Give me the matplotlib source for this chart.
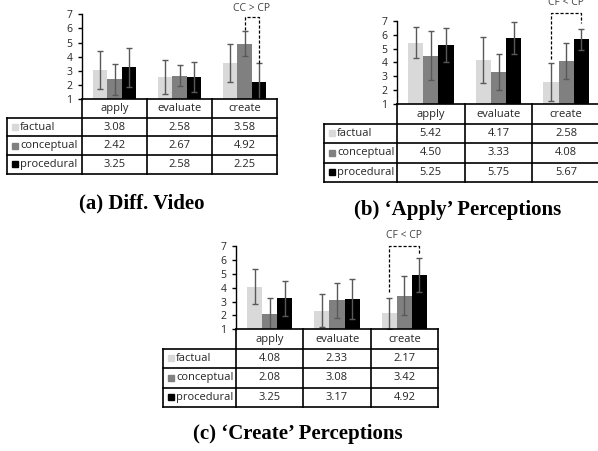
import matplotlib
matplotlib.use("Agg")
import matplotlib.pyplot as plt

W, H = 598, 451
DPI = 100

categories = ["apply", "evaluate", "create"]
series = ["factual", "conceptual", "procedural"]
colors = ["#d9d9d9", "#808080", "#000000"]

diff_factual = [3.08, 2.58, 3.58]
diff_conceptual = [2.42, 2.67, 4.92]
diff_procedural = [3.25, 2.58, 2.25]
diff_factual_sd = [1.35, 1.18, 1.33]
diff_conceptual_sd = [1.10, 0.73, 0.88]
diff_procedural_sd = [1.38, 1.06, 1.30]

apply_factual = [5.42, 4.17, 2.58]
apply_conceptual = [4.50, 3.33, 4.08]
apply_procedural = [5.25, 5.75, 5.67]
apply_factual_sd = [1.10, 1.63, 1.35]
apply_conceptual_sd = [1.75, 1.27, 1.30]
apply_procedural_sd = [1.25, 1.17, 0.75]

create_factual = [4.08, 2.33, 2.17]
create_conceptual = [2.08, 3.08, 3.42]
create_procedural = [3.25, 3.17, 4.92]
create_factual_sd = [1.25, 1.20, 1.12]
create_conceptual_sd = [1.20, 1.25, 1.42]
create_procedural_sd = [1.26, 1.42, 1.20]

captions = ["(a) Diff. Video", "(b) \u2018Apply\u2019 Perceptions", "(c) \u2018Create\u2019 Perceptions"]

# comparison brackets: text, left series, right series, top, left end, right end, text y
notes = [
    ("CC > CP", 1, 2, 6.79, 5.89, 3.59, 7.42),
    ("CF < CP", 0, 2, 7.56, 4.23, 6.81, 8.34),
    ("CF < CP", 0, 2, 7.00, 3.71, 6.35, 7.79),
]

# pixel layout: label col left, axis left, right, y of 7, y of 1, table bottom
layout = [
    (7, 82, 277, 14.3, 99.3, 173.5),
    (324, 397, 600, 20.7, 104.3, 182.0),
    (163, 236, 438, 246.0, 329.3, 407.0),
]
caption_pos = [(142, 203), (458, 210), (298, 434)]

FONT = "Open Sans"
FS = 7.5
FS_TABLE = 8
TXT = "#262626"
BAR_W = 0.225


def fig_rect(x0, y0, x1, y1):
    return [x0 / W, 1 - y1 / H, (x1 - x0) / W, (y1 - y0) / H]


def draw_panel(fig, geom, values, sds, note):
    xl, xa, xr, y7, y1, yb = geom
    colw = (xr - xa) / 3.0

    ax = fig.add_axes(fig_rect(xa, y7, xr, y1))
    for i, (vals, err, col) in enumerate(zip(values, sds, colors)):
        xs = [c + (i - 1) * BAR_W for c in range(len(categories))]
        ax.bar(xs, vals, width=BAR_W, color=col, zorder=2)
        ax.errorbar(xs, vals, yerr=err, fmt="none", ecolor="#595959",
                    elinewidth=1.0, capsize=2.5, capthick=1.0, zorder=3)
    ax.set_xlim(-0.5, 2.5)
    ax.set_ylim(1, 7)
    ax.set_yticks(range(1, 8))
    ax.set_xticks([])
    for s in ["top", "right", "bottom"]:
        ax.spines[s].set_visible(False)
    ax.spines["left"].set_linewidth(1.0)
    ax.tick_params(axis="y", length=3, width=1.0, pad=4, labelsize=FS, labelcolor=TXT)
    for lab in ax.get_yticklabels():
        lab.set_fontfamily(FONT)

    text, li, ri, top, lend, rend, ty = note
    lx = 2 + (li - 1) * BAR_W
    rx = 2 + (ri - 1) * BAR_W
    ax.plot([lx, lx, rx, rx], [lend, top, top, rend], color="black",
            lw=0.9, ls=(0, (2.5, 1.5)), clip_on=False, zorder=4)
    ax.text((lx + rx) / 2, ty, text, ha="center", va="center", fontsize=FS,
            family=FONT, color="#404040", clip_on=False)

    # table under the bars
    lw = (xa - xl) / colw
    tx = fig.add_axes(fig_rect(xl, y1, xr, yb))
    tx.set_xlim(-0.5 - lw, 2.5)
    tx.set_ylim(4, 0)
    tx.axis("off")
    kw = dict(color="black", lw=1.2, clip_on=False, solid_capstyle="projecting")
    tx.plot([-0.5, 2.5], [0, 0], **kw)
    for r in range(1, 5):
        tx.plot([-0.5 - lw, 2.5], [r, r], **kw)
    for c in range(4):
        tx.plot([c - 0.5, c - 0.5], [0, 4], **kw)
    tx.plot([-0.5 - lw, -0.5 - lw], [1, 4], **kw)

    for c, name in enumerate(categories):
        tx.text(c, 0.5, name, ha="center", va="center", fontsize=FS_TABLE, family=FONT, color=TXT)
    for r, (name, col, vals) in enumerate(zip(series, colors, values)):
        yy = r + 1.5
        tx.plot([-0.5 - lw + 8 / colw], [yy], marker="s", ms=5, mec=col, mfc=col, clip_on=False)
        tx.text(-0.5 - lw + 13 / colw, yy, name, ha="left", va="center",
                fontsize=FS_TABLE, family=FONT, color=TXT)
        for c, v in enumerate(vals):
            tx.text(c, yy, f"{v:.2f}", ha="center", va="center", fontsize=FS_TABLE,
                    family=FONT, color=TXT)


fig = plt.figure(figsize=(W / DPI, H / DPI), dpi=DPI)

panels = [
    ([diff_factual, diff_conceptual, diff_procedural],
     [diff_factual_sd, diff_conceptual_sd, diff_procedural_sd]),
    ([apply_factual, apply_conceptual, apply_procedural],
     [apply_factual_sd, apply_conceptual_sd, apply_procedural_sd]),
    ([create_factual, create_conceptual, create_procedural],
     [create_factual_sd, create_conceptual_sd, create_procedural_sd]),
]

for geom, (vals, sds), note, cap, (cx, cy) in zip(layout, panels, notes, captions, caption_pos):
    draw_panel(fig, geom, vals, sds, note)
    fig.text(cx / W, 1 - cy / H, cap, ha="center", va="center", fontsize=15,
             family="Liberation Serif", weight="bold")

fig.savefig("out.png", dpi=DPI)
